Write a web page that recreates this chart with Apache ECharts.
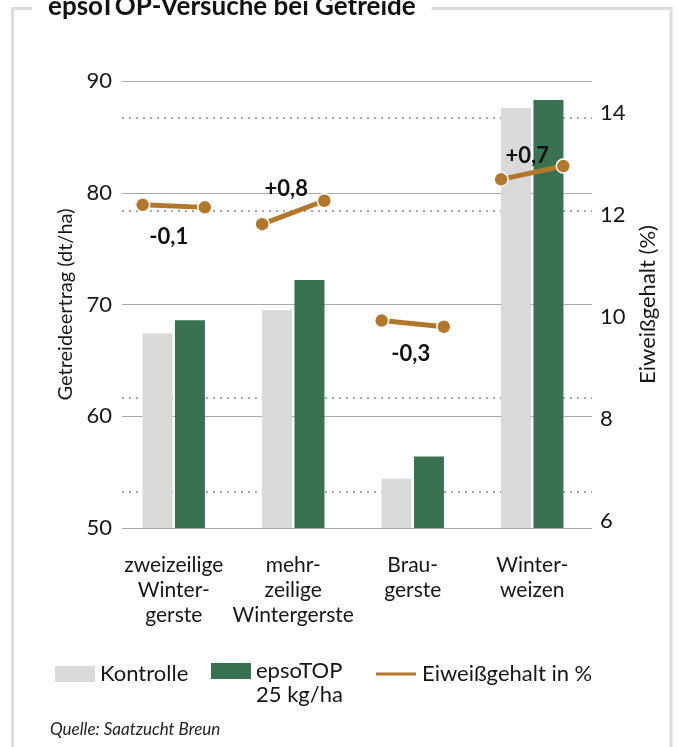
<!DOCTYPE html>
<html>
<head>
<meta charset="utf-8">
<script src="https://cdn.jsdelivr.net/npm/echarts@6/dist/echarts.min.js"></script>
<style>
  html, body { margin: 0; padding: 0; background: #fff; }
  #chart { width: 678px; height: 747px; }
</style>
</head>
<body>
<div id="chart"></div>
<script>
// ---- data ----
const titleText = 'epsoTOP-Versuche bei Getreide';
const categories = ['zweizeilige\nWinter-\ngerste', 'mehr-\nzeilige\nWintergerste', 'Brau-\ngerste', 'Winter-\nweizen'];
const kontrolle = [67.4, 69.5, 54.4, 87.6];
const epsotop = [68.6, 72.2, 56.4, 88.3];
const proteinKontrolle = [12.19, 11.81, 9.92, 12.69];
const proteinEpsotop = [12.14, 12.27, 9.80, 12.95];
const proteinChange = ['-0,1', '+0,8', '-0,3', '+0,7'];
const yieldTicks = [50, 60, 70, 80, 90];
const proteinTicks = [6, 8, 10, 12, 14];
const proteinDotted = [6, 8, 12, 14];
const seriesNames = ['Kontrolle', 'epsoTOP 25 kg/ha', 'Eiweißgehalt in %'];
const yieldName = 'Getreideertrag (dt/ha)';
const proteinName = 'Eiweißgehalt (%)';
const sourceText = 'Quelle: Saatzucht Breun';

// ---- styles ----
const FONT = 'Lato';
const C_K = '#d9d9d9';
const C_E = '#387250';
const C_L = '#b3772c';
const TXT = '#161616';
const dotOffset = 0.26;
const labelOffsets = [[-5, 31], [-7, -24], [-2, 30], [-5, -17]];

const chart = echarts.init(document.getElementById('chart'), null, { renderer: 'canvas' });

const lineSeries = categories.map((c, i) => ({
  name: seriesNames[2],
  type: 'line',
  xAxisIndex: 1,
  yAxisIndex: 2,
  data: [[i - dotOffset, proteinKontrolle[i]], [i + dotOffset, proteinEpsotop[i]]],
  symbol: 'circle',
  symbolSize: 14,
  lineStyle: { color: C_L, width: 5 },
  itemStyle: { color: C_L, borderColor: '#fff', borderWidth: 1.5 },
  z: 5,
  markPoint: {
    symbol: 'circle',
    symbolSize: 0,
    data: [{ coord: [i, (proteinKontrolle[i] + proteinEpsotop[i]) / 2], value: proteinChange[i] }],
    label: {
      show: true,
      position: 'inside',
      offset: labelOffsets[i],
      formatter: (p) => p.value,
      fontFamily: FONT,
      fontWeight: 'bold',
      fontSize: 22,
      color: '#111'
    }
  }
}));

const option = {
  animation: false,
  backgroundColor: '#fff',
  textStyle: { fontFamily: FONT },
  title: {
    text: titleText,
    left: 32,
    top: -6,
    padding: [0, 16],
    backgroundColor: '#fff',
    z: 10,
    textStyle: { fontFamily: FONT, fontWeight: 'bold', fontSize: 26, color: '#111' }
  },
  graphic: [
    {
      type: 'rect',
      z: 0,
      shape: { x: 12.5, y: 8.5, width: 658.5, height: 800 },
      style: { fill: 'none', stroke: '#dcdcdc', lineWidth: 3 }
    },
    {
      type: 'text',
      left: 50,
      top: 721,
      style: { text: sourceText, font: 'italic 17px Lato', fill: '#222' }
    }
  ],
  legend: [
    {
      data: [seriesNames[0]],
      left: 50, top: 658,
      itemWidth: 40, itemHeight: 16,
      icon: 'rect',
      textStyle: { fontFamily: FONT, fontSize: 22, color: TXT, lineHeight: 16 }
    },
    {
      data: [seriesNames[1]],
      left: 206, top: 630,
      itemWidth: 40, itemHeight: 16,
      icon: 'rect',
      formatter: (n) => ' \n' + n.replace(' 25', '\n25'),
      textStyle: { fontFamily: FONT, fontSize: 22, color: TXT, lineHeight: 24 }
    },
    {
      data: [seriesNames[2]],
      left: 369, top: 658,
      itemWidth: 42, itemHeight: 5,
      icon: 'rect',
      textStyle: { fontFamily: FONT, fontSize: 22, color: TXT, lineHeight: 16 }
    }
  ],
  grid: [
    { left: 114, right: 86, top: 81, bottom: 219 },
    { left: 122, right: 86, top: 81, bottom: 219 }
  ],
  xAxis: [
    {
      gridIndex: 0, type: 'category', data: categories,
      axisLine: { show: false }, axisTick: { show: false },
      axisLabel: { margin: 25, fontFamily: FONT, fontSize: 21, lineHeight: 25, color: TXT, interval: 0 }
    },
    { gridIndex: 0, type: 'value', min: -0.5, max: 3.5, show: false },
    { gridIndex: 1, type: 'category', data: categories, show: false }
  ],
  yAxis: [
    { gridIndex: 0, type: 'value', min: yieldTicks[0], max: yieldTicks[yieldTicks.length - 1], show: false },
    {
      gridIndex: 1, type: 'value', position: 'left',
      min: yieldTicks[0], max: yieldTicks[yieldTicks.length - 1], interval: 10,
      name: yieldName, nameLocation: 'middle', nameGap: 46,
      nameTextStyle: { fontFamily: FONT, fontSize: 20, color: TXT },
      axisLine: { show: false }, axisTick: { show: false },
      axisLabel: { margin: 10, fontFamily: FONT, fontSize: 22, color: TXT },
      splitLine: { show: true, lineStyle: { color: '#a8a8a8', width: 1 } }
    },
    {
      gridIndex: 0, type: 'value', position: 'right',
      min: 5.853, max: 14.618,
      name: proteinName, nameLocation: 'middle', nameGap: 40,
      nameTextStyle: { fontFamily: FONT, fontSize: 22, color: TXT },
      axisLine: { show: false }, axisTick: { show: false },
      axisLabel: { customValues: proteinTicks, margin: 8, fontFamily: FONT, fontSize: 22, color: TXT },
      splitLine: { show: false }
    },
    {
      gridIndex: 1, type: 'value', position: 'right',
      min: 5.224, max: 14.776,
      axisLine: { show: false },
      axisTick: { show: false, customValues: proteinDotted },
      axisLabel: { show: false, customValues: proteinDotted },
      splitLine: { show: true, lineStyle: { color: '#a8a8a8', width: 2, type: [2, 5] } }
    }
  ],
  series: [
    {
      name: seriesNames[0], type: 'bar', xAxisIndex: 0, yAxisIndex: 0,
      data: kontrolle, barWidth: 30, barGap: '8%',
      itemStyle: { color: C_K }, z: 3
    },
    {
      name: seriesNames[1], type: 'bar', xAxisIndex: 0, yAxisIndex: 0,
      data: epsotop, barWidth: 30, barGap: '8%',
      itemStyle: { color: C_E }, z: 3
    },
    ...lineSeries
  ]
};

chart.setOption(option);
</script>
</body>
</html>
